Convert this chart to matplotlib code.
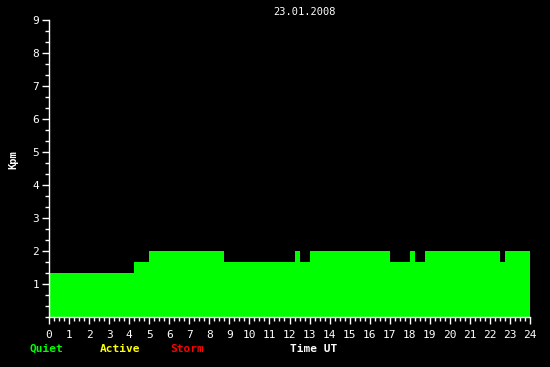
import matplotlib
matplotlib.use("Agg")
import matplotlib.pyplot as plt
from matplotlib.ticker import MultipleLocator

# Kpm index, 23.01.2008 - step edges in hours UT and level for each step
edges = [0, 4.25, 5.0, 8.75, 12.25, 12.5, 13.0, 17.0, 18.0, 18.25, 18.75, 22.5, 22.75, 24.0]
kpm = [1.33, 1.67, 2.0, 1.67, 2.0, 1.67, 2.0, 1.67, 2.0, 1.67, 2.0, 1.67, 2.0]

x_ticks = list(range(0, 25))
y_ticks = list(range(1, 10))

mono = "DejaVu Sans Mono"

fig = plt.figure(figsize=(5.5, 3.67), dpi=100, facecolor="black")
ax = fig.add_axes([49 / 550, 50 / 367, 481 / 550, 297 / 367])
ax.set_facecolor("black")

ax.stairs(kpm, edges, fill=True, color="#00ff00", linewidth=0)

ax.set_xlim(0, 24)
ax.set_ylim(0, 9)
ax.set_xticks(x_ticks)
ax.set_yticks(y_ticks)
ax.xaxis.set_minor_locator(MultipleLocator(0.25))
ax.yaxis.set_minor_locator(MultipleLocator(1 / 3))

for side in ["top", "right"]:
    ax.spines[side].set_visible(False)
for side in ["left", "bottom"]:
    ax.spines[side].set_color("white")
    ax.spines[side].set_linewidth(1)

ax.tick_params(axis="both", which="major", colors="white", length=5, width=1,
               labelsize=8, pad=4)
ax.tick_params(axis="y", which="major", pad=2)
ax.tick_params(axis="both", which="minor", colors="white", length=3, width=1)
for lbl in ax.get_xticklabels() + ax.get_yticklabels():
    lbl.set_family(mono)

fig.text(304 / 550, 1 - 12 / 367, "23.01.2008", color="white", fontsize=7.5,
         family=mono, ha="center", va="center")
fig.text(13 / 550, 1 - 160 / 367, "Kpm", color="white", fontsize=7.5,
         family=mono, weight="bold", rotation=90, ha="center", va="center")

legend_y = 1 - 349 / 367
fig.text(30 / 550, legend_y, "Quiet", color="#00ff00", fontsize=8, family=mono,
         weight="bold", va="center")
fig.text(100 / 550, legend_y, "Active", color="#ffff00", fontsize=8, family=mono,
         weight="bold", va="center")
fig.text(170 / 550, legend_y, "Storm", color="#ff0000", fontsize=8, family=mono,
         weight="bold", va="center")
fig.text(290 / 550, legend_y, "Time UT", color="white", fontsize=8, family=mono,
         weight="bold", va="center")

fig.savefig("out.png", dpi=100, facecolor="black")
